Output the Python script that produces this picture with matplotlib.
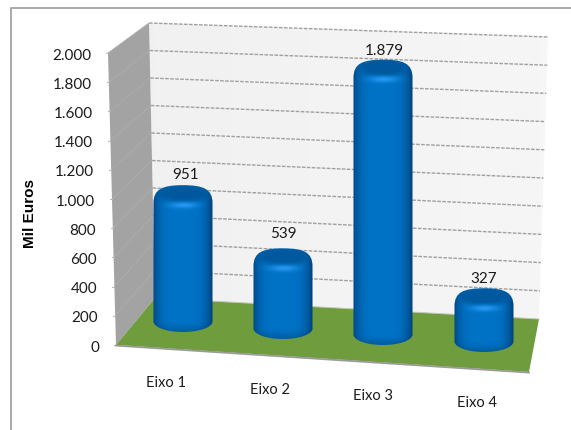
import numpy as np
import matplotlib
matplotlib.use("Agg")
import matplotlib.pyplot as plt
from matplotlib.patches import Polygon, PathPatch
from matplotlib.path import Path

categories = ["Eixo 1", "Eixo 2", "Eixo 3", "Eixo 4"]
values = [951, 539, 1879, 327]
y_ticks = [0, 200, 400, 600, 800, 1000, 1200, 1400, 1600, 1800, 2000]
y_title = "Mil Euros"

VMAX = 2000.0
fig = plt.figure(figsize=(5.71, 4.30), dpi=100, facecolor="white")
ax = fig.add_axes([0, 0, 1, 1])
ax.set_xlim(0, 571)
ax.set_ylim(430, 0)
ax.axis("off")

FONT = "Lato"
TXT = "#1c1c1c"


def fmt(v):
    return f"{v:,}".replace(",", ".")


def lerp(a, b, t):
    return a + (b - a) * t


# projected corners of the 3D box
FL0, FL1 = (116, 345), (108, 53)     # front-left edge of side wall
BL0, BL1 = (155, 298), (149, 23)     # back-left
BR0, BR1 = (539, 319), (548, 37)     # back-right
FR0 = (529, 372)                     # floor front-right


def edge(p0, p1, v):
    t = v / VMAX
    return lerp(p0[0], p1[0], t), lerp(p0[1], p1[1], t)


# outer frame
ax.plot([11, 11, 571], [430, 8, 8], color="#a9a9a9", lw=1.4, zorder=1, solid_capstyle="butt")

# back wall with a faint gradient
grad = np.linspace(0, 1, 64).reshape(1, -1)
rgb = np.dstack([lerp(0.945, 0.965, grad)] * 3)
im = ax.imshow(rgb, extent=(149, 548, 320, 23), aspect="auto", zorder=2, interpolation="bilinear")
wall = Polygon([BL0, BL1, BR1, BR0], closed=True, transform=ax.transData, fc="none", ec="none")
ax.add_patch(wall)
im.set_clip_path(wall)
ax.set_xlim(0, 571)
ax.set_ylim(430, 0)

# side wall
ax.add_patch(Polygon([FL0, FL1, BL1, BL0], closed=True, fc="#a3a3a3", ec="none", zorder=3))

# floor
ax.add_patch(Polygon([FL0, BL0, BR0, FR0], closed=True, fc="#6f9c3d", ec="none", zorder=4))
ax.plot([FL0[0], FR0[0]], [FL0[1] + 0.6, FR0[1] + 0.6], color="#9a9a9a", lw=1.3, zorder=4)
ax.plot([BL0[0], BR0[0]], [BL0[1], BR0[1]], color="#c4c8bc", lw=0.7, zorder=4)

# gridlines, ticks and tick labels
for v in y_ticks:
    fx, fy = edge(FL0, FL1, v)
    bx, by = edge(BL0, BL1, v)
    rx, ry = edge(BR0, BR1, v)
    if v > 0:
        ax.plot([bx, rx], [by, ry], color="#a0a0a0", lw=1.0, dashes=(2.6, 1.0), zorder=3)
        ax.plot([fx, bx], [fy, by], color="#adadad", lw=0.6, zorder=3.5)
    ax.plot([fx - 2, fx], [fy, fy], color="#bdbdbd", lw=0.8, zorder=3)
    ax.text(fx - 17, fy + 2.5, fmt(v), ha="right", va="center", fontsize=11,
            family=FONT, color=TXT, zorder=8)

# cylinders
SCALE = 0.146
R = 29.5
ELL = 10
CAP = 15
centres = [183, 283, 383, 484]
bottoms = [332, 339, 345, 352]
lifts = [8, 12, 11, 16]
label_x = [186, 283, 384, 484]
label_gap = [10, 14, 9, 9]


def cylinder(cx, top, bottom, z):
    yb = bottom - ELL
    k = 0.5523
    verts = [
        (cx - R, yb),
        (cx - R + 1, yb + ELL * k), (cx - R * k, bottom), (cx, bottom),
        (cx + R * k, bottom), (cx + R - 1, yb + ELL * k), (cx + R, yb),
        (cx + R, yb), (cx + R, top + CAP + 3), (cx + R, top + CAP + 3),
        (cx + R, top + 4), (cx + R * 0.7, top), (cx, top),
        (cx - R * 0.7, top), (cx - R, top + 4), (cx - R, top + CAP + 3),
        (cx - R, top + CAP + 3), (cx - R, yb), (cx - R, yb),
        (cx - R, yb),
    ]
    codes = [Path.MOVETO] + [Path.CURVE4] * 18 + [Path.CLOSEPOLY]
    path = Path(verts, codes)

    x0, x1 = cx - R - 2, cx + R + 2
    y0, y1 = top - 2, bottom + 2
    xs = np.arange(x0, x1, 0.5)
    ys = np.arange(y0, y1, 0.5)
    X, Y = np.meshgrid(xs, ys)
    u = (X - cx) / R

    body = np.array([0.0, 0.45, 0.78])
    dark = np.array([0.0, 0.27, 0.50])
    light = np.array([0.15, 0.60, 0.95])
    s = np.clip(np.abs(u + 0.05), 0, 1) ** 4
    img = body[None, None, :] * (1 - s[..., None]) + dark[None, None, :] * s[..., None]

    lower = np.exp(-((bottom - Y) / 6.0) ** 2) * 0.18
    img = img * (1 - lower[..., None])

    # cap: darker inner ellipse fading into a lit shoulder
    ccy = top + 8
    inner = ((X - cx) / (R * 0.92)) ** 2 + ((Y - ccy) / 8.5) ** 2
    w = np.clip((1.5 - inner) / 1.0, 0, 1)[..., None]
    img = img * (1 - w) + np.array([0.0, 0.35, 0.62])[None, None, :] * w
    hl = np.exp(-((X - cx) / (R * 0.45)) ** 2 - ((Y - (top + 20)) / 3.0) ** 2)[..., None]
    img = img * (1 - hl) + light[None, None, :] * hl

    im = ax.imshow(np.clip(img, 0, 1), extent=(x0, x1, y1, y0), aspect="auto",
                   zorder=z, interpolation="bilinear")
    patch = PathPatch(path, fc="none", ec="none", transform=ax.transData, zorder=z)
    ax.add_patch(patch)
    im.set_clip_path(patch)


for i, v in enumerate(values):
    top = bottoms[i] - v * SCALE - lifts[i]
    cylinder(centres[i], top, bottoms[i], 5 + i * 0.1)
    ax.text(label_x[i], top - label_gap[i], fmt(v), ha="center", va="center", fontsize=11,
            family=FONT, color=TXT, zorder=9)

ax.set_xlim(0, 571)
ax.set_ylim(430, 0)

# category labels
for i, c in enumerate(categories):
    ax.text(166 + i * 103.7, 383 + i * 6.6, c, ha="center", va="center", fontsize=10.5,
            family=FONT, color=TXT, zorder=8)

ax.text(30, 214, y_title, rotation=90, ha="center", va="center", fontsize=11,
        family="Liberation Sans", fontweight="bold", color="black", zorder=8)

fig.savefig("out.png", dpi=100, facecolor="white")
